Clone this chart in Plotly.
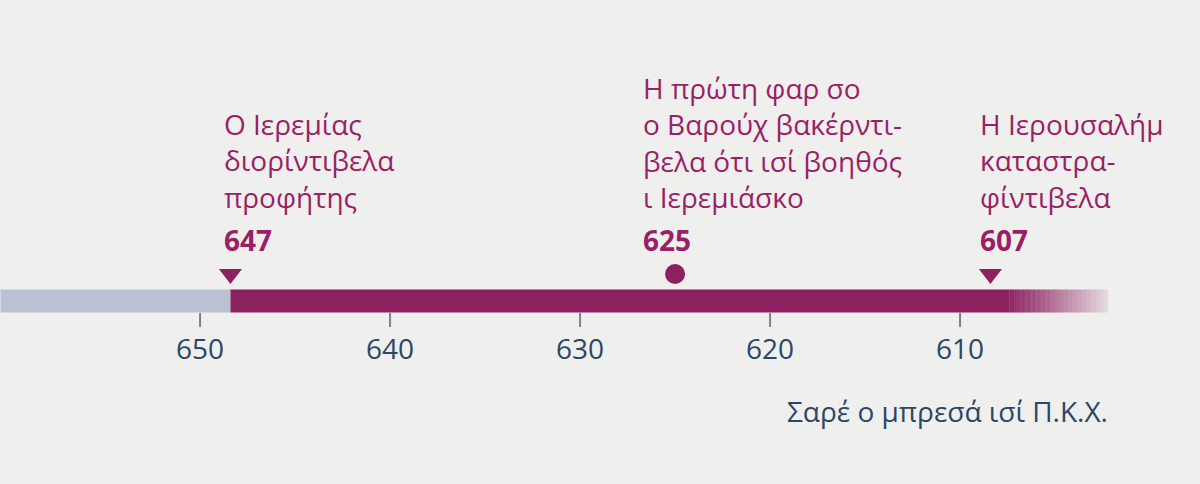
import plotly.graph_objects as go

# Data
tick_years = [650, 640, 630, 620, 610]
event_years = [648.4, 625, 608.4]
event_year_labels = ["647", "625", "607"]
event_texts = ["Ο Ιερεμίας<br>διορίντιβελα<br>προφήτης",
               "Η πρώτη φαρ σο<br>ο Βαρούχ βακέρντι-<br>βελα ότι ισί βοηθός<br>ι Ιερεμιάσκο",
               "Η Ιερουσαλήμ<br>καταστρα-<br>φίντιβελα"]
event_symbols = ["triangle-down", "circle", "triangle-down"]
period_start, prophet_start, fade_start, period_end = 660.5, 648.4, 607.4, 602.2
axis_title = "Σαρέ ο μπρεσά ισί Π.Κ.Χ."

PURPLE = "#8c2160"
GREY = "#b9c1d2"
BLUE = "#2c4668"
TXT = "#9b1f67"
BAR_Y = 301
text_shifts = [-8, -34, -12]

fig = go.Figure()
fig.add_trace(go.Scatter(x=[period_start, prophet_start], y=[BAR_Y, BAR_Y], mode="lines",
                         line=dict(color=GREY, width=23), hoverinfo="skip"))
fig.add_trace(go.Scatter(x=[prophet_start, fade_start], y=[BAR_Y, BAR_Y], mode="lines",
                         line=dict(color=PURPLE, width=23), hoverinfo="skip"))
n = 40
step = (fade_start - period_end) / n
for i in range(n):
    a = 1 - (i + 0.5) / n * 0.92
    fig.add_trace(go.Scatter(x=[fade_start - i * step + 0.01, fade_start - (i + 1) * step],
                             y=[BAR_Y, BAR_Y], mode="lines",
                             line=dict(color=f"rgba(140,33,96,{a:.3f})", width=23), hoverinfo="skip"))

# ticks
for t in tick_years:
    fig.add_trace(go.Scatter(x=[t, t], y=[313, 327], mode="lines",
                             line=dict(color="#7a8290", width=2), hoverinfo="skip"))
fig.add_trace(go.Scatter(x=tick_years, y=[352] * len(tick_years), mode="text",
                         text=[str(t) for t in tick_years],
                         textfont=dict(family="Open Sans", size=28, color=BLUE), hoverinfo="skip"))

# event markers
fig.add_trace(go.Scatter(x=event_years, y=[274, 274, 274], mode="markers", opacity=1,
                         marker=dict(symbol=event_symbols, size=[20, 20, 20], color=PURPLE,
                                     opacity=1, line=dict(width=0)),
                         hoverinfo="skip"))

for x, yl, txt, sh in zip(event_years, event_year_labels, event_texts, text_shifts):
    fig.add_annotation(x=x, y=218, text=txt, xanchor="left", yanchor="bottom", align="left",
                       showarrow=False, xshift=sh,
                       font=dict(family="Open Sans", size=28, color=TXT))
    fig.add_annotation(x=x, y=240, text=f"<b>{yl}</b>", xanchor="left", yanchor="middle",
                       showarrow=False, xshift=sh,
                       font=dict(family="Open Sans", size=28, color=TXT))

fig.add_annotation(x=period_end, y=411, text=axis_title, xanchor="right", yanchor="middle",
                   showarrow=False, xshift=2, font=dict(family="Open Sans", size=28, color=BLUE))

fig.update_layout(width=1200, height=484, margin=dict(l=0, r=0, t=0, b=0),
                  paper_bgcolor="#efefed", plot_bgcolor="#efefed", showlegend=False,
                  xaxis=dict(range=[660.53, 597.37], visible=False, fixedrange=True),
                  yaxis=dict(range=[484, 0], visible=False, fixedrange=True))
fig.write_html("out.html", config={"displayModeBar": False},
               post_script="document.body.style.margin='0';document.body.style.overflow='hidden';")
